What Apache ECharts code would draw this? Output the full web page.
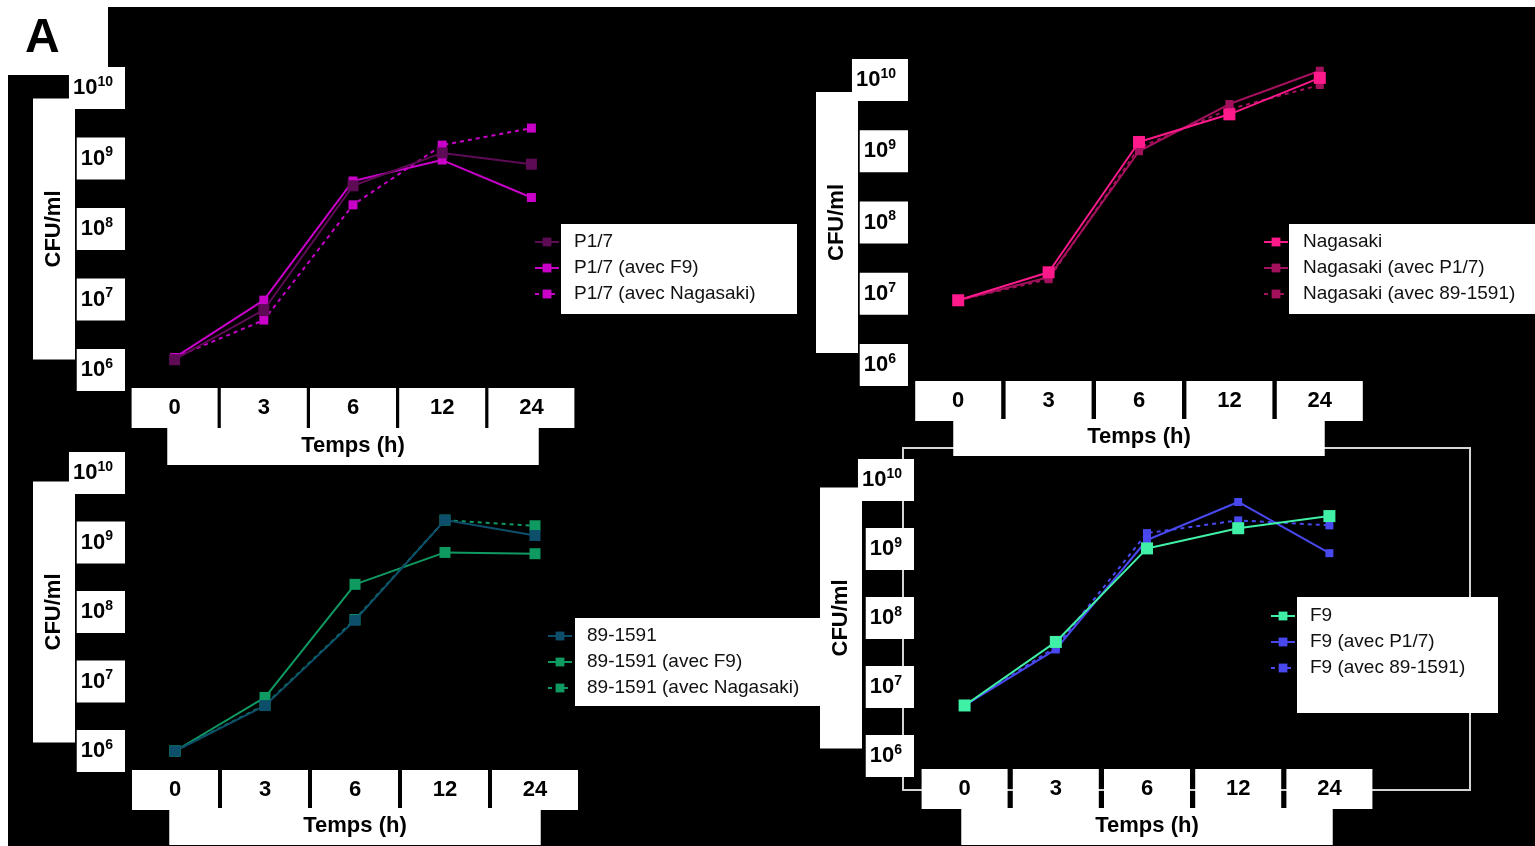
<!DOCTYPE html>
<html>
<head>
<meta charset="utf-8">
<script src="https://cdn.jsdelivr.net/npm/echarts@6/dist/echarts.min.js"></script>
<style>
html,body{margin:0;padding:0;background:#fff;}
#c{width:1535px;height:846px;}
</style>
</head>
<body>
<div id="c"></div>
<script>
// ---- data ----
const categories = ['0', '3', '6', '12', '24'];
const xTitle = 'Temps (h)';
const yTitle = 'CFU/ml';

// Panel 1 (P1/7)
const p17Names = ['P1/7', 'P1/7 (avec F9)', 'P1/7 (avec Nagasaki)'];
const p17 = [1.4e6, 7.1e6, 4.1e8, 1.2e9, 8.3e8];
const p17WithF9 = [1.5e6, 9.8e6, 4.8e8, 9.5e8, 2.8e8];
const p17WithNagasaki = [1.5e6, 5.1e6, 2.2e8, 1.55e9, 2.7e9];

// Panel 2 (Nagasaki)
const nagNames = ['Nagasaki', 'Nagasaki (avec P1/7)', 'Nagasaki (avec 89-1591)'];
const nagasaki = [8.1e6, 2.0e7, 1.35e9, 3.3e9, 1.07e10];
const nagWithP17 = [8.1e6, 1.7e7, 1.0e9, 4.6e9, 1.35e10];
const nagWith891591 = [8.1e6, 1.6e7, 1.12e9, 3.9e9, 8.5e9];

// Panel 3 (89-1591)
const s89Names = ['89-1591', '89-1591 (avec F9)', '89-1591 (avec Nagasaki)'];
const s89 = [1.0e6, 4.5e6, 7.6e7, 2.1e9, 1.26e9];
const s89WithF9 = [1.0e6, 5.9e6, 2.5e8, 7.2e8, 6.9e8];
const s89WithNagasaki = [1.0e6, 4.6e6, 7.8e7, 2.1e9, 1.74e9];

// Panel 4 (F9)
const f9Names = ['F9', 'F9 (avec P1/7)', 'F9 (avec 89-1591)'];
const f9 = [5.4e6, 4.5e7, 1.02e9, 2.0e9, 3.0e9];
const f9WithP17 = [5.4e6, 3.5e7, 1.35e9, 4.8e9, 8.7e8];
const f9With891591 = [5.4e6, 3.8e7, 1.7e9, 2.6e9, 2.2e9];

// ---- layout / style ----
const FONT = '"Liberation Sans", Arial, sans-serif';
const panels = [
  { grid: { left: 130, top: 88, width: 446, height: 282 }, xLabelMargin: 18, xNameGap: 58, yNameGap: 55,
    legend: { left: 534, top: 232 }, legendBox: [561, 224, 236, 90], textWidth: 0,
    names: p17Names, data: [p17, p17WithF9, p17WithNagasaki],
    colors: ['#5e0b55', '#c800c8', '#c800c8'], types: ['solid', 'solid', [4, 4]], sizes: [11, 9, 9] },
  { grid: { left: 913, top: 80, width: 452, height: 285 }, xLabelMargin: 16, xNameGap: 54, yNameGap: 55,
    legend: { left: 1263, top: 232 }, legendBox: [1289, 224, 260, 90], textWidth: 0,
    names: nagNames, data: [nagasaki, nagWithP17, nagWith891591],
    colors: ['#ff1a8c', '#a3105c', '#a3105c'], types: ['solid', 'solid', [4, 4]], sizes: [12, 8, 8] },
  { grid: { left: 130, top: 473, width: 450, height: 285 }, xLabelMargin: 19, xNameGap: 57, yNameGap: 55,
    legend: { left: 547, top: 626 }, legendBox: [575, 618, 245, 88], textWidth: 228,
    names: s89Names, data: [s89, s89WithF9, s89WithNagasaki],
    colors: ['#0d4f6b', '#0f9a62', '#0f9a62'], types: ['solid', 'solid', [4, 4]], sizes: [11, 11, 11] },
  { grid: { left: 919, top: 480, width: 456, height: 284 }, xLabelMargin: 13, xNameGap: 52, yNameGap: 57,
    legend: { left: 1270, top: 606 }, legendBox: [1297, 597, 201, 116], textWidth: 0,
    names: f9Names, data: [f9, f9WithP17, f9With891591],
    colors: ['#3ff0a6', '#4848ee', '#4848ee'], types: ['solid', 'solid', [4, 4]], sizes: [12, 8, 8] }
];

const grids = [], xAxes = [], yAxes = [], legends = [], series = [];
const graphics = [
  { type: 'rect', shape: { x: 0, y: 0, width: 1535, height: 7 }, style: { fill: '#fff' }, z: 0 },
  { type: 'rect', shape: { x: 0, y: 0, width: 8, height: 846 }, style: { fill: '#fff' }, z: 0 },
  { type: 'rect', shape: { x: 0, y: 0, width: 108, height: 75 }, style: { fill: '#fff' }, z: 0 },
  { type: 'text', x: 25, y: 15, style: { text: 'A', font: 'bold 48px ' + FONT, fill: '#000' }, z: 1 },
  { type: 'rect', shape: { x: 903, y: 448, width: 567, height: 342 }, style: { fill: 'none', stroke: '#d4d4d4', lineWidth: 2 }, z: 0 }
];

panels.forEach((p, i) => {
  grids.push(p.grid);
  xAxes.push({
    type: 'category', gridIndex: i, data: categories, boundaryGap: true,
    axisLine: { lineStyle: { color: '#000', width: 2 } },
    axisTick: { show: true, lineStyle: { color: '#000', width: 3 }, length: 22 },
    axisLabel: {
      margin: p.xLabelMargin, color: '#000', fontSize: 22, fontWeight: 'bold', fontFamily: FONT,
      backgroundColor: '#fff', width: 72, align: 'center', padding: [9, 7, 9, 7], interval: 0
    },
    name: xTitle, nameLocation: 'middle', nameGap: p.xNameGap, nameMoveOverlap: false,
    nameTextStyle: { color: '#000', fontSize: 22, fontWeight: 'bold', fontFamily: FONT,
      backgroundColor: '#fff', padding: [7, 134, 8, 134] }
  });
  yAxes.push({
    type: 'log', logBase: 10, gridIndex: i, min: 1e6, max: 1e10,
    axisLine: { show: true, lineStyle: { color: '#000', width: 2 } },
    axisTick: { show: true, lineStyle: { color: '#000' } },
    splitLine: { show: false },
    axisLabel: {
      margin: 5, backgroundColor: '#fff', padding: [8, 12, 8, 4],
      formatter: v => '{b|10}{s|' + Math.round(Math.log10(v)) + '}',
      rich: {
        b: { fontSize: 22, fontWeight: 'bold', fontFamily: FONT, color: '#000', lineHeight: 26 },
        s: { fontSize: 14, fontWeight: 'bold', fontFamily: FONT, color: '#000', lineHeight: 15, verticalAlign: 'top' }
      }
    },
    name: yTitle, nameLocation: 'middle', nameRotate: 90, nameGap: p.yNameGap, nameMoveOverlap: false,
    nameTextStyle: { color: '#000', fontSize: 22, fontWeight: 'bold', fontFamily: FONT,
      backgroundColor: '#fff', padding: [10, 92, 10, 92] }
  });
  const ts = { color: '#111', fontSize: 19, fontFamily: FONT, lineHeight: 20, padding: [0, 0, 0, 10] };
  if (p.textWidth) { ts.width = p.textWidth; ts.overflow = 'truncate'; ts.ellipsis = ''; }
  legends.push({
    orient: 'vertical', left: p.legend.left, top: p.legend.top, itemGap: 6,
    itemWidth: 24, itemHeight: 11, padding: 0, z: 5,
    data: p.names, textStyle: ts
  });
  const b = p.legendBox;
  graphics.push({ type: 'rect', shape: { x: b[0], y: b[1], width: b[2], height: b[3] }, style: { fill: '#fff' }, z: 1 });
  p.names.forEach((n, k) => {
    series.push({
      type: 'line', name: n, xAxisIndex: i, yAxisIndex: i, data: p.data[k],
      symbol: 'rect', symbolSize: p.sizes[k], clip: false, z: 3 + (2 - k),
      lineStyle: { color: p.colors[k], width: 2, type: p.types[k] },
      itemStyle: { color: p.colors[k] },
      emphasis: { disabled: true }
    });
  });
});

const chart = echarts.init(document.getElementById('c'));
chart.setOption({
  backgroundColor: '#000',
  animation: false,
  grid: grids, xAxis: xAxes, yAxis: yAxes, legend: legends, series: series,
  graphic: { elements: graphics }
});
</script>
</body>
</html>
